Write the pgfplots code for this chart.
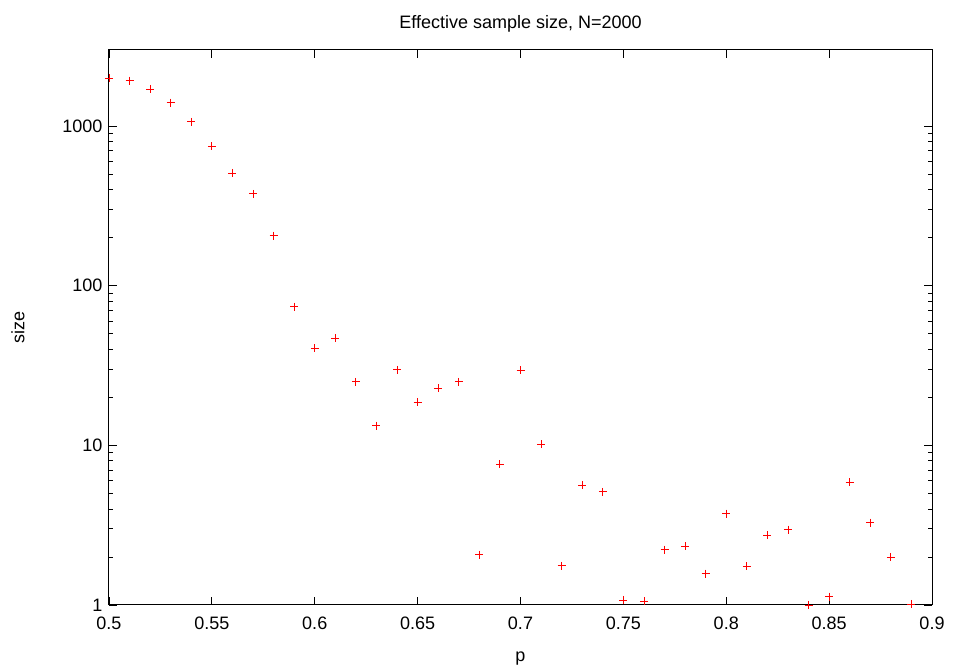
\documentclass[border=0pt]{standalone}
\usepackage{fontspec}
\setmainfont{Liberation Sans}
\usepackage{pgfplots}
\pgfplotsset{compat=1.18}
\begin{document}
\begin{tikzpicture}[font=\fontsize{18}{22}\selectfont]
\useasboundingbox (-109pt,-64pt) rectangle (844pt,605pt);
\begin{axis}[
  at={(0,0)}, anchor=south west,
  scale only axis, width=823pt, height=555pt,
  xmin=0.5, xmax=0.9, ymode=log, ymin=1, ymax=3000,
  xtick={0.5,0.55,0.6,0.65,0.7,0.75,0.8,0.85,0.9},
  xticklabels={0.5,0.55,0.6,0.65,0.7,0.75,0.8,0.85,0.9},
  ytick={1,10,100,1000},
  yticklabels={1,10,100,1000},
  tick align=inside,
  major tick length=8pt, minor tick length=4pt,
  every tick/.style={black, line width=0.8pt},
  axis line style={line width=1pt},
  xticklabel style={yshift=-8pt},
  yticklabel style={xshift=-3pt},
  title={Effective sample size, N=2000},
  title style={yshift=8pt},
  xlabel={p}, ylabel={size},
  xlabel shift=16pt, ylabel shift=31pt,
]
\addplot[only marks, mark=+, mark size=4pt, red, mark options={red, line width=0.9pt}] coordinates {
(0.50,2000) (0.51,1930) (0.52,1710) (0.53,1404) (0.54,1063) (0.55,751)
(0.56,509) (0.57,377) (0.58,206) (0.59,74) (0.60,40.7) (0.61,47)
(0.62,25) (0.63,13.3) (0.64,29.7) (0.65,18.6) (0.66,22.8) (0.67,25)
(0.68,2.07) (0.69,7.6) (0.70,29.6) (0.71,10.2) (0.72,1.76) (0.73,5.63)
(0.74,5.11) (0.75,1.075) (0.76,1.055) (0.77,2.22) (0.78,2.34) (0.79,1.57)
(0.80,3.74) (0.81,1.75) (0.82,2.73) (0.83,2.97) (0.84,1.0) (0.85,1.13)
(0.86,5.88) (0.87,3.28) (0.88,2.0) (0.89,1.015)
};
\end{axis}
\end{tikzpicture}
\end{document}
